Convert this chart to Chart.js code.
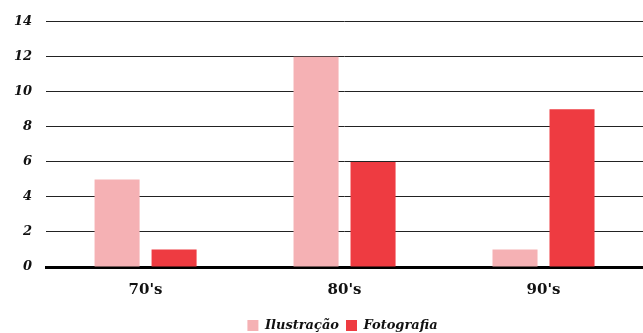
<!DOCTYPE html>
<html>
<head>
<meta charset="utf-8">
<script src="https://cdn.jsdelivr.net/npm/chart.js@4"></script>
<style>
  html, body { margin: 0; padding: 0; background: #fff; }
  #wrap { width: 643px; height: 333px; }
</style>
</head>
<body>
<div id="wrap"><canvas id="graficoDecadas"></canvas></div>
<script>
// dados do grafico
var decadas = ["70's", "80's", "90's"];
var ilustracao = [5, 12, 1];
var fotografia = [1, 6, 9];

var fonteSerif = "'DejaVu Serif', 'Liberation Serif', serif";

// empurra a legenda para a direita e para baixo, como no original
var deslocaLegenda = {
    id: 'deslocaLegenda',
    afterLayout: function(chart) {
        var lg = chart.legend;
        if (lg) {
            lg.left += 21;
            lg.right += 21;
            lg.top += 9;
            lg.bottom += 9;
        }
    }
};

var ctx = document.getElementById('graficoDecadas').getContext('2d');
var grafico = new Chart(ctx, {
    type: 'bar',
    data: {
        labels: decadas,
        datasets: [
            {
                label: 'Ilustração',
                data: ilustracao,
                backgroundColor: '#f5b1b4',
                borderWidth: 0,
                categoryPercentage: 0.573,
                barPercentage: 0.79
            },
            {
                label: 'Fotografia',
                data: fotografia,
                backgroundColor: '#ee3b41',
                borderWidth: 0,
                categoryPercentage: 0.573,
                barPercentage: 0.79
            }
        ]
    },
    options: {
        responsive: true,
        maintainAspectRatio: false,
        animation: false,
        layout: {
            padding: { left: 0, right: 0, top: 12, bottom: 0 }
        },
        plugins: {
            tooltip: { enabled: false },
            legend: {
                position: 'bottom',
                labels: {
                    boxWidth: 11,
                    boxHeight: 11,
                    padding: 7,
                    color: '#111',
                    font: { family: fonteSerif, size: 13, weight: 'bold', style: 'italic' }
                }
            }
        },
        scales: {
            x: {
                grid: { display: false },
                border: { display: true, color: '#000', width: 3 },
                ticks: {
                    color: '#111',
                    padding: 6,
                    font: { family: fonteSerif, size: 15, weight: 'bold' }
                },
                afterFit: function(scale) {
                    scale.height = 36;
                }
            },
            y: {
                min: 0,
                max: 14,
                ticks: {
                    stepSize: 2,
                    color: '#111',
                    padding: 14,
                    font: { family: fonteSerif, size: 13, weight: 'bold', style: 'italic' }
                },
                grid: { color: '#222', lineWidth: 1, drawTicks: false },
                border: { display: false }
            }
        }
    },
    plugins: [deslocaLegenda]
});
</script>
</body>
</html>
